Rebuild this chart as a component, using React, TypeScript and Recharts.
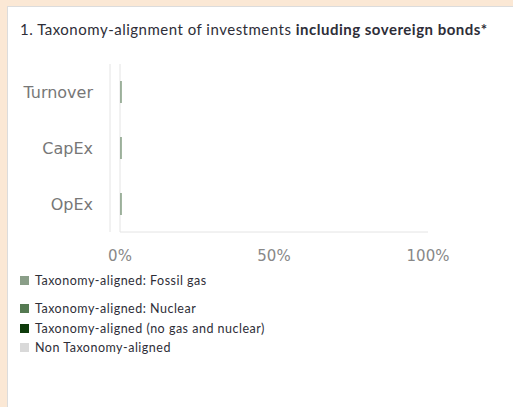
import { BarChart, Bar, XAxis, YAxis } from "recharts";

// categories and series (share of investments, %)
const categories = ["Turnover", "CapEx", "OpEx"];
const fossilGas = [0, 0, 0];
const nuclear = [0.5, 0.5, 0.5];
const alignedNoGasNuclear = [0, 0, 0];
const nonAligned = [0, 0, 0];
const xTicks = [0, 50, 100];

const SERIES = [
  { key: "fossilGas", name: "Taxonomy-aligned: Fossil gas", color: "#8a9e88" },
  { key: "nuclear", name: "Taxonomy-aligned: Nuclear", color: "#557a52" },
  { key: "aligned", name: "Taxonomy-aligned (no gas and nuclear)", color: "#0e3b0b" },
  { key: "nonAligned", name: "Non Taxonomy-aligned", color: "#d9d9d9" },
];

const data = categories.map((c, i) => ({
  name: c,
  fossilGas: fossilGas[i],
  nuclear: nuclear[i],
  aligned: alignedNoGasNuclear[i],
  nonAligned: nonAligned[i],
}));

const legendTop = [273, 301, 321, 340];

export default function App() {
  return (
    <div
      style={{
        position: "absolute",
        left: 0,
        top: 0,
        width: 513,
        height: 407,
        overflow: "hidden",
        background: "#fbe8d5",
      }}
    >
      <div
        style={{
          position: "absolute",
          left: 7,
          top: 6,
          width: 520,
          height: 420,
          background: "#fff",
          border: "1px solid #dcdcdc",
        }}
      />
      <div
        style={{
          position: "absolute",
          left: 20,
          top: 20,
          fontFamily: "Lato, sans-serif",
          fontSize: 15,
          letterSpacing: 0.5,
          color: "#2e2e38",
          whiteSpace: "nowrap",
        }}
      >
        1. Taxonomy-alignment of investments <b>including sovereign bonds*</b>
      </div>
      <div style={{ position: "absolute", left: 0, top: 0 }}>
        <BarChart
          width={513}
          height={270}
          data={data}
          layout="vertical"
          margin={{ top: 64, right: 85, bottom: 8, left: 0 }}
        >
          <XAxis
            type="number"
            domain={[0, 100]}
            ticks={xTicks}
            tickFormatter={(v: number) => `${v}%`}
            tick={{ fontSize: 15, fill: "#888", fontFamily: "DejaVu Sans" }}
            tickLine={false}
            axisLine={{ stroke: "#e4e4e4" }}
            tickMargin={12}
            height={30}
          />
          <YAxis
            yAxisId="inner"
            type="category"
            dataKey="name"
            width={10}
            tick={false}
            tickLine={false}
            axisLine={{ stroke: "#e4e4e4" }}
          />
          <YAxis
            yAxisId="outer"
            type="category"
            dataKey="name"
            width={110}
            tick={{ fontSize: 16, fill: "#777", fontFamily: "DejaVu Sans" }}
            tickLine={false}
            axisLine={{ stroke: "#e4e4e4" }}
            tickMargin={11}
          />
          {SERIES.map((s) => (
            <Bar
              key={s.key}
              yAxisId="inner"
              dataKey={s.key}
              stackId="a"
              fill={s.color}
              barSize={22}
              isAnimationActive={false}
            />
          ))}
        </BarChart>
      </div>
      {SERIES.map((s, i) => (
        <div
          key={s.key}
          style={{
            position: "absolute",
            left: 20,
            top: legendTop[i],
            display: "flex",
            alignItems: "center",
            fontFamily: "Lato, sans-serif",
            fontSize: 12.5,
            letterSpacing: 0.5,
            color: "#2e2e38",
            whiteSpace: "nowrap",
          }}
        >
          <span
            style={{
              display: "inline-block",
              width: 9,
              height: 9,
              background: s.color,
              marginRight: 6,
            }}
          />
          {s.name}
        </div>
      ))}
    </div>
  );
}
